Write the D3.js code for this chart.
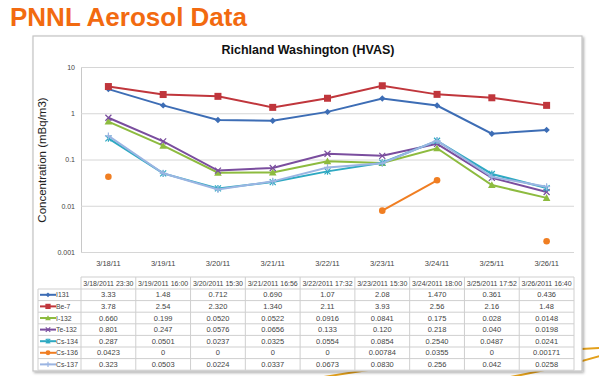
<!DOCTYPE html>
<html><head><meta charset="utf-8">
<script src="https://cdn.jsdelivr.net/npm/d3@7"></script>
<style>
html,body{margin:0;padding:0;background:#fff;}
svg{display:block;font-family:"Liberation Sans",Arial,sans-serif;}
</style></head>
<body>
<svg id="c" width="599" height="376"></svg>
<script>
const categories = ["3/18/11","3/19/11","3/20/11","3/21/11","3/22/11","3/23/11","3/24/11","3/25/11","3/26/11"];
const headers = ["3/18/2011 23:30","3/19/2011 16:00","3/20/2011 15:30","3/21/2011 16:56","3/22/2011 17:32","3/23/2011 15:30","3/24/2011 18:00","3/25/2011 17:52","3/26/2011 16:40"];
const seriesNames = ["I131","Be-7","I-132","Te-132","Cs-134","Cs-136","Cs-137"];
const I131  = ["3.33","1.48","0.712","0.690","1.07","2.08","1.470","0.361","0.436"];
const Be7   = ["3.78","2.54","2.320","1.340","2.11","3.93","2.56","2.16","1.48"];
const I132  = ["0.660","0.199","0.0520","0.0522","0.0916","0.0841","0.175","0.028","0.0148"];
const Te132 = ["0.801","0.247","0.0576","0.0656","0.133","0.120","0.218","0.040","0.0198"];
const Cs134 = ["0.287","0.0501","0.0237","0.0325","0.0554","0.0854","0.2540","0.0487","0.0241"];
const Cs136 = ["0.0423","0","0","0","0","0.00784","0.0355","0","0.00171"];
const Cs137 = ["0.323","0.0503","0.0224","0.0337","0.0673","0.0830","0.256","0.042","0.0258"];
const yTicks = [10,1,0.1,0.01,0.001];
const yTickLabels = ["10","1","0.1","0.01","0.001"];
const colors = ["#3d6db5","#c0363c","#8dbb3f","#7a4d9e","#2ea9c2","#f07e22","#9bb5e2"];
const markers = ["diamond","square","triangle","x","star","circle","plus"];

const seriesData = [I131,Be7,I132,Te132,Cs134,Cs136,Cs137];

const svg = d3.select("#c");
const defs = svg.append("defs");
const f = defs.append("filter").attr("id","sh").attr("x","-5%").attr("y","-5%").attr("width","110%").attr("height","110%");
f.append("feDropShadow").attr("dx",1.5).attr("dy",1.5).attr("stdDeviation",1.2).attr("flood-color","#000").attr("flood-opacity",0.3);

// decorative slide swooshes
const sw = svg.append("g").attr("fill","none").attr("stroke","#e3a01b").attr("stroke-width",2);
sw.append("path").attr("d","M318,378 Q450,355 600,348");
sw.append("path").attr("d","M505,378 Q560,368 600,356");

// slide title
svg.append("text").attr("x",10).attr("y",26).attr("font-size",26).attr("font-weight","bold")
  .attr("fill","#f26a10").text("PNNL Aerosol Data");

// chart frame
svg.append("rect").attr("x",33).attr("y",36).attr("width",549).attr("height",335)
  .attr("fill","#fff").attr("stroke","#c4c4c4").attr("stroke-width",1.2).attr("filter","url(#sh)");

const pL = 81, pR = 574, pT = 67, pB = 252;
const x = d3.scaleBand().domain(categories).range([pL,pR]);
const y = d3.scaleLog().domain([0.001,10]).range([pB,pT]);

svg.append("text").attr("x",308).attr("y",54).attr("text-anchor","middle").attr("font-size",12.5)
  .attr("font-weight","bold").attr("fill","#111").text("Richland Washington (HVAS)");

// gridlines
const gy = svg.append("g").attr("transform",`translate(${pL},0)`)
  .call(d3.axisLeft(y).tickValues(yTicks).tickFormat((d,i)=>yTickLabels[i]).tickSize(-(pR-pL)).tickPadding(6));
gy.select(".domain").attr("stroke","#c8c8c8");
gy.selectAll(".tick line").attr("stroke","#d6d6d6");
gy.selectAll(".tick text").attr("font-size",7).attr("fill","#444").attr("font-family","Liberation Sans, Arial");

// x axis labels
const gx = svg.append("g").attr("transform",`translate(0,${pB})`)
  .call(d3.axisBottom(x).tickSize(0).tickPadding(9));
gx.select(".domain").remove();
gx.selectAll(".tick text").attr("font-size",7.5).attr("fill","#444").attr("font-family","Liberation Sans, Arial");

// y label
svg.append("text").attr("transform","translate(46,160) rotate(-90)").attr("text-anchor","middle")
  .attr("font-size",11.5).attr("fill","#222").text("Concentration (mBq/m3)");

function drawMarker(g, type, cx, cy, color, s){
  s = s||1;
  if(type==="diamond") g.append("path").attr("d",`M${cx},${cy-3.2*s}L${cx+3.2*s},${cy}L${cx},${cy+3.2*s}L${cx-3.2*s},${cy}Z`).attr("fill",color);
  else if(type==="square") g.append("rect").attr("x",cx-3.5*s).attr("y",cy-3.5*s).attr("width",7*s).attr("height",7*s).attr("fill",color);
  else if(type==="triangle") g.append("path").attr("d",`M${cx},${cy-3.8*s}L${cx+3.8*s},${cy+3*s}L${cx-3.8*s},${cy+3*s}Z`).attr("fill",color);
  else if(type==="circle") g.append("circle").attr("cx",cx).attr("cy",cy).attr("r",3.3*s).attr("fill",color);
  else if(type==="x") g.append("path").attr("d",`M${cx-3*s},${cy-3*s}L${cx+3*s},${cy+3*s}M${cx-3*s},${cy+3*s}L${cx+3*s},${cy-3*s}`).attr("stroke",color).attr("stroke-width",1.2);
  else if(type==="star") g.append("path").attr("d",`M${cx-3*s},${cy-3*s}L${cx+3*s},${cy+3*s}M${cx-3*s},${cy+3*s}L${cx+3*s},${cy-3*s}M${cx},${cy-3.5*s}L${cx},${cy+3.5*s}`).attr("stroke",color).attr("stroke-width",1.2);
  else if(type==="plus") g.append("path").attr("d",`M${cx-3.5*s},${cy}L${cx+3.5*s},${cy}M${cx},${cy-3.5*s}L${cx},${cy+3.5*s}`).attr("stroke",color).attr("stroke-width",1.2);
}

const plot = svg.append("g");
const line = d3.line().defined(d=>+d.v>0).x(d=>x(d.c)+x.bandwidth()/2).y(d=>y(+d.v));
seriesData.forEach((arr,i)=>{
  const pts = arr.map((v,j)=>({c:categories[j],v}));
  plot.append("path").datum(pts).attr("d",line).attr("fill","none").attr("stroke",colors[i]).attr("stroke-width",2);
  const mg = plot.append("g");
  pts.filter(p=>+p.v>0).forEach(p=>drawMarker(mg,markers[i],x(p.c)+x.bandwidth()/2,y(+p.v),colors[i]));
});

// data table
const tTop = 277, hH = 12, rH = 11.6, labL = 38;
const tb = svg.append("g");
const gridC = "#cfcfcf";
const nR = seriesNames.length;
const tBottom = tTop + hH + nR*rH;
tb.append("line").attr("x1",pL).attr("x2",pR).attr("y1",tTop).attr("y2",tTop).attr("stroke",gridC);
headers.forEach((h,j)=>{
  tb.append("text").attr("x",x(categories[j])+x.bandwidth()/2).attr("y",tTop+hH/2+2.5)
    .attr("text-anchor","middle").attr("font-size",7).attr("fill","#444").text(h);
});
for(let r=0;r<=nR;r++){
  const yy = tTop+hH+r*rH;
  tb.append("line").attr("x1",labL).attr("x2",pR).attr("y1",yy).attr("y2",yy).attr("stroke",gridC);
}
tb.append("line").attr("x1",labL).attr("x2",labL).attr("y1",tTop+hH).attr("y2",tBottom).attr("stroke",gridC);
categories.forEach((c,j)=>{
  tb.append("line").attr("x1",x(c)).attr("x2",x(c)).attr("y1",tTop).attr("y2",tBottom).attr("stroke",gridC);
});
tb.append("line").attr("x1",pR).attr("x2",pR).attr("y1",tTop).attr("y2",tBottom).attr("stroke",gridC);
seriesNames.forEach((n,i)=>{
  const cy = tTop+hH+i*rH+rH/2;
  tb.append("line").attr("x1",40).attr("x2",56).attr("y1",cy).attr("y2",cy).attr("stroke",colors[i]).attr("stroke-width",2);
  drawMarker(tb,markers[i],48,cy,colors[i],0.75);
  tb.append("text").attr("x",56).attr("y",cy+2.5).attr("font-size",6.8).attr("fill","#444").text(n);
  seriesData[i].forEach((v,j)=>{
    tb.append("text").attr("x",x(categories[j])+x.bandwidth()/2).attr("y",cy+2.6)
      .attr("text-anchor","middle").attr("font-size",7.5).attr("fill","#444").text(v);
  });
});
</script>
</body></html>
